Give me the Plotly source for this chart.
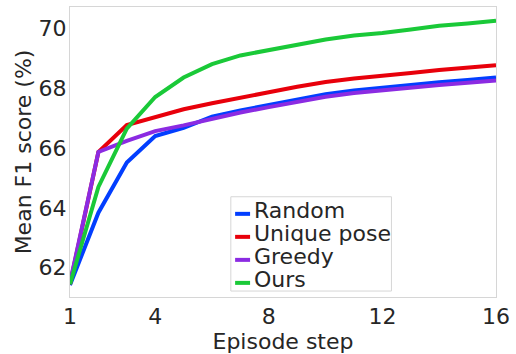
import plotly.graph_objects as go

steps = list(range(1, 17))
random_f1 = [61.42, 63.84, 65.52, 66.40, 66.68, 67.05, 67.26, 67.45, 67.64, 67.80, 67.93, 68.03, 68.12, 68.20, 68.28, 68.36]
unique_pose_f1 = [61.45, 65.87, 66.77, 67.05, 67.30, 67.50, 67.70, 67.87, 68.05, 68.21, 68.33, 68.41, 68.51, 68.61, 68.69, 68.77]
greedy_f1 = [61.5, 65.87, 66.24, 66.57, 66.76, 66.99, 67.19, 67.37, 67.56, 67.72, 67.84, 67.94, 68.03, 68.11, 68.19, 68.26]
ours_f1 = [61.45, 64.7, 66.65, 67.71, 68.36, 68.81, 69.10, 69.28, 69.47, 69.63, 69.77, 69.85, 69.97, 70.09, 70.17, 70.26]

series = [
    ("Random", random_f1, "#023eff"),
    ("Unique pose", unique_pose_f1, "#e8000b"),
    ("Greedy", greedy_f1, "#8b2be2"),
    ("Ours", ours_f1, "#1ac938"),
]
x_ticks = [1, 4, 8, 12, 16]
y_ticks = [62, 64, 66, 68, 70]

W, H = 516, 354
L, R, T, B = 69.5, 496.5, 6.0, 302.8
FS = 22
text_color = "#262626"


def px(x):
    return (x - L) / (R - L)


def py(y):
    return (B - y) / (B - T)


fig = go.Figure()
for name, vals, color in series:
    fig.add_trace(go.Scatter(x=steps, y=vals, mode="lines", name=name,
                             line=dict(color=color, width=4), showlegend=False))

# legend drawn in the matplotlib style (short handles, tight spacing)
shapes = [dict(type="rect", xref="paper", yref="paper",
               x0=px(230.7), x1=px(391.7), y0=py(296.7), y1=py(200.2),
               line=dict(color="#d6d6d6", width=1), fillcolor="white", layer="above")]
annotations = []
for i, (name, vals, color) in enumerate(series):
    ly = 217.7 + 23.55 * i
    ty = ly - 3.0
    shapes.append(dict(type="line", xref="paper", yref="paper",
                       x0=px(235), x1=px(250), y0=py(ly), y1=py(ly),
                       line=dict(color=color, width=4), layer="above"))
    annotations.append(dict(xref="paper", yref="paper", x=px(251.5), y=py(ty),
                            xanchor="left", yanchor="middle", text=name, showarrow=False,
                            font=dict(size=FS, color=text_color)))

fig.update_layout(
    width=W, height=H,
    margin=dict(l=L, r=W - R, t=T, b=H - B),
    paper_bgcolor="white", plot_bgcolor="white",
    font=dict(family="DejaVu Sans", size=FS, color=text_color),
    showlegend=False,
    shapes=shapes, annotations=annotations,
)
fig.update_xaxes(range=[1, 16], tickvals=x_ticks, showgrid=False, zeroline=False,
                 showline=True, mirror=True, linecolor="#d6d6d6", linewidth=1,
                 ticks="", tickfont=dict(size=FS),
                 title=dict(text="Episode step", font=dict(size=FS), standoff=3))
fig.update_yaxes(range=[61.02, 70.72], tickvals=y_ticks, showgrid=False, zeroline=False,
                 showline=True, mirror=True, linecolor="#d6d6d6", linewidth=1,
                 ticks="", tickfont=dict(size=FS), ticklabelstandoff=-2,
                 title=dict(text="Mean F1 score (%)", font=dict(size=FS), standoff=0))

fig.write_html("out.html")
